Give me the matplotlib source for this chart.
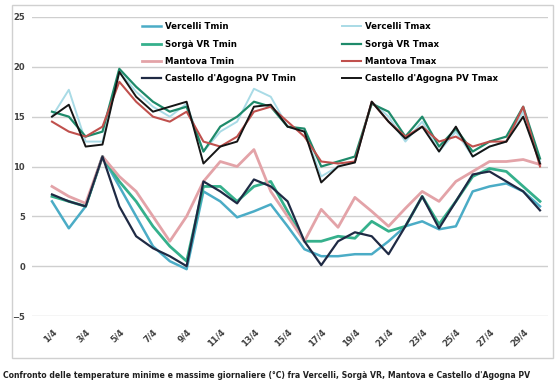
import numpy as np
import matplotlib
matplotlib.use("Agg")
import matplotlib.pyplot as plt
from matplotlib.patches import Rectangle

# Daily temperatures (°C), days 1..30
days = list(range(1, 31))
tick_days = days[::2]
tick_labels = [f"{d}/4" for d in tick_days]

vercelli_tmin = [6.5, 3.8, 6.0, 11.0, 8.0, 5.0, 2.0, 0.5, -0.3, 7.5, 6.5, 4.9, 5.5, 6.2, 4.0,
                 1.7, 1.0, 1.0, 1.2, 1.2, 2.5, 4.0, 4.5, 3.7, 4.0, 7.5, 8.0, 8.3, 7.5, 6.0]
vercelli_tmax = [15.0, 17.7, 12.5, 12.5, 19.5, 17.5, 16.0, 15.0, 16.3, 11.5, 13.5, 14.5, 17.8, 17.0, 14.0,
                 13.5, 9.0, 10.0, 10.5, 16.5, 15.0, 12.5, 14.5, 11.5, 13.5, 11.0, 12.0, 12.5, 15.5, 10.5]
sorga_tmin = [7.0, 6.5, 6.0, 11.0, 8.5, 6.5, 4.0, 2.0, 0.5, 8.0, 8.0, 6.5, 8.0, 8.5, 5.5,
              2.5, 2.5, 3.0, 2.8, 4.5, 3.5, 4.0, 7.0, 4.2, 6.5, 9.0, 9.8, 9.5, 8.0, 6.5]
sorga_tmax = [15.5, 15.0, 13.0, 13.5, 19.8, 18.0, 16.5, 15.5, 16.0, 11.5, 14.0, 15.0, 16.5, 16.0, 14.0,
              13.8, 10.0, 10.5, 11.0, 16.3, 15.5, 13.0, 15.0, 12.0, 13.8, 11.5, 12.5, 13.0, 16.0, 10.8]
mantova_tmin = [8.0, 7.0, 6.3, 11.0, 9.0, 7.5, 5.0, 2.5, 5.0, 8.5, 10.5, 10.0, 11.7, 7.5, 5.0,
                2.5, 5.7, 3.9, 6.9, 5.5, 4.0, 5.8, 7.5, 6.5, 8.5, 9.5, 10.5, 10.5, 10.7, 10.2]
mantova_tmax = [14.5, 13.5, 13.0, 14.0, 18.5, 16.5, 15.0, 14.5, 15.5, 12.5, 12.0, 13.0, 15.5, 16.0, 14.5,
                13.0, 10.5, 10.3, 10.5, 16.5, 14.5, 13.0, 14.0, 12.5, 13.0, 12.0, 12.5, 12.5, 16.0, 10.0]
castello_tmin = [7.2, 6.5, 6.0, 11.0, 6.0, 3.0, 1.8, 1.0, 0.0, 8.5, 7.5, 6.3, 8.7, 8.0, 6.5,
                 2.5, 0.1, 2.5, 3.4, 3.0, 1.2, 4.0, 7.0, 3.8, 6.5, 9.2, 9.5, 8.5, 7.5, 5.6]
castello_tmax = [15.0, 16.2, 12.0, 12.2, 19.5, 17.0, 15.5, 16.0, 16.5, 10.3, 12.0, 12.5, 16.0, 16.2, 14.0,
                 13.5, 8.4, 10.0, 10.4, 16.5, 14.5, 12.8, 14.0, 11.5, 14.0, 11.0, 12.0, 12.5, 15.0, 10.3]

series = [
    ("Vercelli Tmin", vercelli_tmin, "#4bacc6", 1.8),
    ("Vercelli Tmax", vercelli_tmax, "#a9dbe6", 1.4),
    ("Sorgà VR Tmin", sorga_tmin, "#35b08c", 2.0),
    ("Sorgà VR Tmax", sorga_tmax, "#1e8a6a", 1.6),
    ("Mantova Tmin", mantova_tmin, "#e3a3a8", 2.0),
    ("Mantova Tmax", mantova_tmax, "#c0504d", 1.5),
    ("Castello d'Agogna PV Tmin", castello_tmin, "#1f2a44", 1.6),
    ("Castello d'Agogna PV Tmax", castello_tmax, "#151515", 1.4),
]

W, H = 559, 382
fig = plt.figure(figsize=(W / 100, H / 100), dpi=100)
fig.patch.set_facecolor("white")

# chart area frame
fig.patches.append(Rectangle((12 / W, 1 - 358 / H), (553 - 12) / W, (358 - 5) / H,
                             transform=fig.transFigure, fill=False,
                             edgecolor="#d0d0d0", linewidth=1.0))

ax = fig.add_axes([32 / W, 1 - 316 / H, (548 - 32) / W, (316 - 17) / H])
step = 16.83
ax.set_xlim(1 - 20 / step, 30 + 8 / step)
ax.set_ylim(-5, 25)

handles = {}
for name, vals, color, lw in series:
    (ln,) = ax.plot(days, vals, color=color, linewidth=lw, label=name)
    handles[name] = ln

ax.set_yticks(range(-5, 30, 5))
ax.yaxis.grid(True, color="#cfcfcf", linewidth=1.0)
ax.set_axisbelow(True)
for s in ax.spines.values():
    s.set_visible(False)
ax.tick_params(axis="both", length=0)
ax.tick_params(axis="y", pad=5)
ax.set_xticks(tick_days)
ax.set_xticklabels(tick_labels, rotation=45, ha="right", rotation_mode="anchor")
ax.tick_params(axis="x", pad=8)
for lab in ax.get_yticklabels() + ax.get_xticklabels():
    lab.set_fontsize(6)
    lab.set_fontweight("bold")
    lab.set_color("#404040")

order = [s[0] for s in series if s[0].endswith("Tmin")] + [s[0] for s in series if s[0].endswith("Tmax")]
leg = ax.legend([handles[n] for n in order], order, ncol=2, frameon=False,
                loc="upper left", bbox_to_anchor=((139 - 32) / (548 - 32), 1 - (19 - 17) / (316 - 17)),
                prop={"size": 6.2, "weight": "bold"}, handlelength=2.2, handletextpad=0.4,
                columnspacing=5.4, labelspacing=0.95, borderaxespad=0)

fig.text(0.005, 1 - 375 / H,
         "Confronto delle temperature minime e massime giornaliere (°C) fra Vercelli, Sorgà VR, Mantova e Castello d'Agogna PV",
         fontsize=5.6, fontweight="bold", color="#202020", va="center", ha="left")

fig.savefig("out.png", dpi=100, facecolor="white")
